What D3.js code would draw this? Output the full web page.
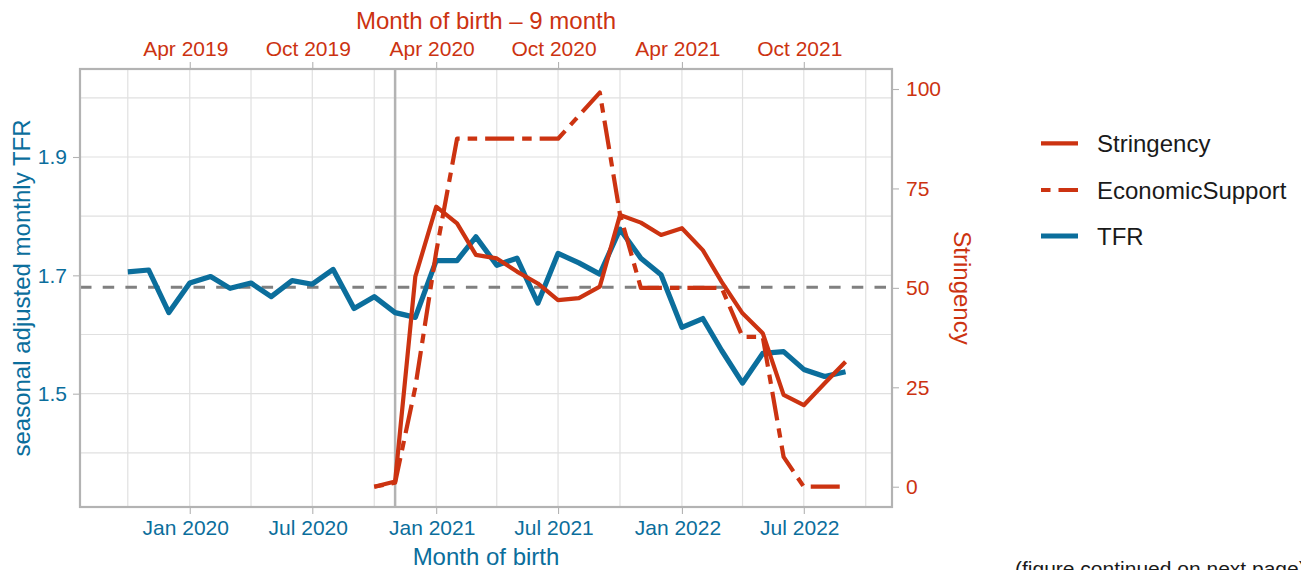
<!DOCTYPE html>
<html>
<head>
<meta charset="utf-8">
<script src="https://cdn.jsdelivr.net/npm/d3@7"></script>
<style>
body{margin:0;background:#fff;}
svg{display:block;font-family:"Liberation Sans",Arial,sans-serif;}
</style>
</head>
<body>
<div id="chart"></div>
<script>
// monthly TFR, Oct 2019 - Sep 2022
var months = ["2019-10","2019-11","2019-12","2020-01","2020-02","2020-03","2020-04","2020-05","2020-06",
  "2020-07","2020-08","2020-09","2020-10","2020-11","2020-12","2021-01","2021-02","2021-03","2021-04",
  "2021-05","2021-06","2021-07","2021-08","2021-09","2021-10","2021-11","2021-12","2022-01","2022-02",
  "2022-03","2022-04","2022-05","2022-06","2022-07","2022-08","2022-09"];
var tfr = [1.706,1.709,1.637,1.687,1.698,1.678,1.687,1.664,1.691,
  1.685,1.710,1.644,1.664,1.637,1.629,1.725,1.725,1.765,1.717,
  1.729,1.653,1.737,1.721,1.702,1.778,1.729,1.701,1.612,1.627,
  1.573,1.518,1.568,1.571,1.541,1.529,1.537];

// policy indices (shifted by 9 months), Oct 2020 - Sep 2022
var policyMonths = months.slice(12);
var stringency = [0,1.3,52.8,70.4,66.2,58.3,57.4,54.1,51.1,46.9,47.4,50.3,
  68.3,66.4,63.3,65.0,59.5,51.5,43.6,38.6,23.1,20.5,26.0,31.4];
var econSupport = [0,1,25,59,87.5,87.5,87.5,87.5,87.5,87.5,93.3,99.1,
  68.5,50,50,50,50,50,37.7,37.7,7.5,0,0,0];

var bottomTicks = ["2020-01","2020-07","2021-01","2021-07","2022-01","2022-07"];
var bottomLabels = ["Jan 2020","Jul 2020","Jan 2021","Jul 2021","Jan 2022","Jul 2022"];
var topLabels = ["Apr 2019","Oct 2019","Apr 2020","Oct 2020","Apr 2021","Oct 2021"];
var minorX = ["2019-10","2020-04","2020-10","2021-04","2021-10","2022-04","2022-10"];
var tfrTicks = [1.5,1.7,1.9];
var tfrMinor = [1.4,1.6,1.8,2.0];
var stringTicks = [0,25,50,75,100];
var refTFR = 1.68;
var refMonth = "2020-11";

var legendNames = ["Stringency","EconomicSupport","TFR"];

var blue = "#0b6e9c", red = "#cc3311";
var W = 1301, H = 570;
var panel = {left:80, top:69, right:892, bottom:507};

var parse = d3.timeParse("%Y-%m");

var svg = d3.select('#chart').append('svg')
  .attr('width', W)
  .attr('height', H);

var x = d3.scaleTime()
  .domain([new Date(2019,6,22), new Date(2022,10,9)])
  .range([panel.left, panel.right]);
var y = d3.scaleLinear()
  .domain([1.3085, 2.0487])
  .range([panel.bottom, panel.top]);
var y2 = d3.scaleLinear()
  .domain([-5.1, 105.03])
  .range([panel.bottom, panel.top]);

// grid
var grid = svg.append('g');
minorX.concat(bottomTicks).forEach(function(m){
  grid.append('line')
    .attr('x1', x(parse(m))).attr('x2', x(parse(m)))
    .attr('y1', panel.top).attr('y2', panel.bottom)
    .attr('stroke', '#e0e0e0').attr('stroke-width', 1.2);
});
tfrMinor.concat(tfrTicks).forEach(function(v){
  grid.append('line')
    .attr('x1', panel.left).attr('x2', panel.right)
    .attr('y1', y(v)).attr('y2', y(v))
    .attr('stroke', '#e0e0e0').attr('stroke-width', 1.2);
});

// reference lines
svg.append('line')
  .attr('x1', panel.left).attr('x2', panel.right)
  .attr('y1', y(refTFR)).attr('y2', y(refTFR))
  .attr('stroke', '#808080').attr('stroke-width', 3)
  .attr('stroke-dasharray', '11.5 11.2');
svg.append('line')
  .attr('x1', x(parse(refMonth))).attr('x2', x(parse(refMonth)))
  .attr('y1', panel.top).attr('y2', panel.bottom)
  .attr('stroke', '#b3b3b3').attr('stroke-width', 2.5);

// series
var tfrData = months.map(function(m,i){ return {date:parse(m), v:tfr[i]}; });
var strData = policyMonths.map(function(m,i){ return {date:parse(m), v:stringency[i]}; });
var ecoData = policyMonths.map(function(m,i){ return {date:parse(m), v:econSupport[i]}; });

var lineL = d3.line().x(function(d){return x(d.date);}).y(function(d){return y(d.v);});
var lineR = d3.line().x(function(d){return x(d.date);}).y(function(d){return y2(d.v);});

svg.append('path').datum(tfrData)
  .attr('d', lineL).attr('fill','none')
  .attr('stroke', blue).attr('stroke-width', 5.2)
  .attr('stroke-linejoin','round');
svg.append('path').datum(ecoData)
  .attr('d', lineR).attr('fill','none')
  .attr('stroke', red).attr('stroke-width', 4.2)
  .attr('stroke-dasharray','9.5 8 29 8')
  .attr('stroke-linejoin','round');
svg.append('path').datum(strData)
  .attr('d', lineR).attr('fill','none')
  .attr('stroke', red).attr('stroke-width', 4.2)
  .attr('stroke-linejoin','round');

// axes
var bottomDates = bottomTicks.map(parse);
function styleAxis(g, color){
  g.select('.domain').remove();
  g.selectAll('.tick line').attr('stroke','#b3b3b3').attr('stroke-width',1.1);
  g.selectAll('.tick text').attr('fill', color).style('font-size','21px')
    .style('font-family','"Liberation Sans",Arial,sans-serif');
}
var xb = svg.append('g')
  .attr('transform', `translate(0,${panel.bottom})`)
  .call(d3.axisBottom(x).tickValues(bottomDates)
    .tickFormat(function(d,i){return bottomLabels[i];})
    .tickSize(7).tickPadding(6));
styleAxis(xb, blue);
xb.selectAll('.tick text').attr('dx', -4.5);
var xt = svg.append('g')
  .attr('transform', `translate(0,${panel.top})`)
  .call(d3.axisTop(x).tickValues(bottomDates)
    .tickFormat(function(d,i){return topLabels[i];})
    .tickSize(7).tickPadding(6));
styleAxis(xt, red);
xt.selectAll('.tick text').attr('dx', -4.5);
var yl = svg.append('g')
  .attr('transform', `translate(${panel.left},0)`)
  .call(d3.axisLeft(y).tickValues(tfrTicks).tickFormat(d3.format('.1f'))
    .tickSize(7).tickPadding(6));
styleAxis(yl, blue);
var yr = svg.append('g')
  .attr('transform', `translate(${panel.right},0)`)
  .call(d3.axisRight(y2).tickValues(stringTicks).tickFormat(d3.format('d'))
    .tickSize(7).tickPadding(7));
styleAxis(yr, red);

// panel border
svg.append('rect')
  .attr('x', panel.left).attr('y', panel.top)
  .attr('width', panel.right-panel.left).attr('height', panel.bottom-panel.top)
  .attr('fill','none').attr('stroke','#b3b3b3').attr('stroke-width',2.2);

// titles
var cx = (panel.left+panel.right)/2, cy = (panel.top+panel.bottom)/2;
svg.append('text').attr('x', cx).attr('y', 29.3)
  .attr('text-anchor','middle').attr('fill', red).style('font-size','24px')
  .text('Month of birth \u2013 9 month');
svg.append('text').attr('x', cx).attr('y', 565)
  .attr('text-anchor','middle').attr('fill', blue).style('font-size','24px')
  .text('Month of birth');
svg.append('text').attr('transform', `translate(29.5,${cy}) rotate(-90)`)
  .attr('text-anchor','middle').attr('fill', blue).style('font-size','24px')
  .text('seasonal adjusted monthly TFR');
svg.append('text').attr('transform', `translate(954,${cy}) rotate(90)`)
  .attr('text-anchor','middle').attr('fill', red).style('font-size','24px')
  .text('Stringency');

// legend
var legY = [143.3, 190, 236];
var legStyle = [{c:red, dash:null, w:4.2},{c:red, dash:'9.5 8 29 8', w:4.2},{c:blue, dash:null, w:5.2}];
legendNames.forEach(function(n,i){
  svg.append('line')
    .attr('x1',1041).attr('x2',1078)
    .attr('y1',legY[i]).attr('y2',legY[i])
    .attr('stroke',legStyle[i].c).attr('stroke-width',legStyle[i].w)
    .attr('stroke-dasharray',legStyle[i].dash);
  svg.append('text').attr('x',1097).attr('y',legY[i]+9)
    .attr('fill','#1a1a1a').style('font-size','24px')
    .text(n);
});

// page footnote, cut at the bottom edge as in the source page
svg.append('text').attr('x',1015).attr('y',576)
  .attr('fill','#1a1a1a').style('font-size','21px')
  .text('(figure continued on next page)');
</script>
</body>
</html>
